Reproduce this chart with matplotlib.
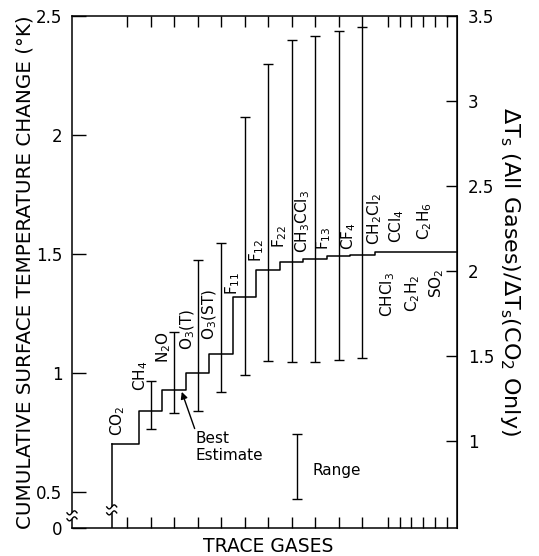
import numpy as np
import matplotlib.pyplot as plt
from matplotlib.patches import Rectangle

# trace gases, in the order they are added
gases = ['CO$_2$', 'CH$_4$', 'N$_2$O', 'O$_3$(T)', 'O$_3$(ST)', 'F$_{11}$', 'F$_{12}$',
         'F$_{22}$', 'CH$_3$CCl$_3$', 'F$_{13}$', 'CF$_4$', 'CH$_2$Cl$_2$', 'CCl$_4$',
         'C$_2$H$_6$', 'CHCl$_3$', 'C$_2$H$_2$', 'SO$_2$']
# cumulative surface temperature change (K), best estimate
cumulative = [0.70, 0.84, 0.93, 1.00, 1.08, 1.32, 1.435, 1.465, 1.48, 1.49, 1.495,
              1.51, 1.51, 1.51, 1.51, 1.51, 1.51]
# range for CH4 ... CF4
range_low = [0.765, 0.833, 0.842, 0.919, 0.99, 1.052, 1.047, 1.047, 1.055, 1.062]
range_high = [0.968, 1.172, 1.475, 1.547, 2.075, 2.298, 2.398, 2.416, 2.438, 2.455]
co2_only = 0.714

right_ticks = [1, 1.5, 2, 2.5, 3, 3.5]
left_ticks = [0.5, 1, 1.5, 2, 2.5]

# where the gas names sit (layout only)
label_x = [0.62, 1.60, 2.57, 3.60, 4.53, 5.51, 6.53, 7.51, 8.49, 9.38, 10.45,
           11.55, 12.49, 13.68, 12.11, 13.17, 14.19]
label_y = [0.735, 0.924, 1.042, 1.097, 1.139, 1.328, 1.466, 1.525, 1.504, 1.517, 1.517,
           1.538, 1.546, 1.559, 1.235, 1.256, 1.315]

y_bottom = 0.349
x_left, x_right = -1.34, 15.04
x_break = 0.35

xpos = np.r_[np.arange(1, 12), 12.1 + 0.5 * np.arange(6)]

fig = plt.figure(figsize=(5.39, 5.56), dpi=100)
ax = fig.add_axes([72 / 539, 28 / 556, 385 / 539, 512 / 556])

# data units per pixel, for the break marks
px_x = (x_right - x_left) / 385
px_y = (2.5 - y_bottom) / 512


def axis_break(x, y, gap=3.0, clip=True):
    # white gap across a vertical line, with a wiggle on each side
    ax.add_patch(Rectangle((x - 7 * px_x, y - gap * px_y), 14 * px_x, 2 * gap * px_y,
                           fc='white', ec='none', zorder=4, clip_on=clip))
    t = np.linspace(-1, 1, 30)
    for s in (-1, 1):
        ax.plot(x + 5 * t * px_x, y + (s * gap + 2.0 * np.sin(np.pi * t)) * px_y,
                color='k', lw=1.0, zorder=5, clip_on=clip)


# best estimate staircase
edges = np.r_[x_break, (xpos[1:] + xpos[:-1]) / 2, x_right]
ax.step(edges, np.r_[cumulative, cumulative[-1]], where='post', color='k', lw=1.1)
ax.plot([x_break, x_break], [y_bottom, cumulative[0]], color='k', lw=1.1)

# ranges
lo = np.array(range_low)
hi = np.array(range_high)
ax.errorbar(xpos[1:11], (lo + hi) / 2, yerr=(hi - lo) / 2, fmt='none', ecolor='k',
            elinewidth=1.0, capsize=3.5, capthick=1.0)

for name, x, y in zip(gases, label_x, label_y):
    ax.text(x, y, name, rotation=90, ha='center', va='bottom', fontsize=11)

# legend bits
ax.annotate('Best\nEstimate', xy=(3.33, 0.921), xytext=(3.92, 0.755),
            ha='left', va='top', fontsize=11, linespacing=1.15,
            arrowprops=dict(arrowstyle='-|>', color='k', lw=1.0, mutation_scale=10,
                            shrinkA=0, shrinkB=0, relpos=(0, 1)))
ax.errorbar([8.23], [0.606], yerr=[0.136], fmt='none', ecolor='k', elinewidth=1.0,
            capsize=3.5, capthick=1.0)
ax.text(8.9, 0.592, 'Range', ha='left', va='center', fontsize=11)

ax.set_xlim(x_left, x_right)
ax.set_ylim(y_bottom, 2.5)

axis_break(x_left, 0.40, clip=False)
axis_break(x_break, 0.425)

ax.set_xticks(xpos)
ax.set_xticklabels([])
ax.set_yticks([y_bottom] + left_ticks)
ax.set_yticklabels(['0', '0.5', '1', '1.5', '2', '2.5'])
ax.tick_params(axis='y', direction='in', length=10, width=1, labelsize=12, pad=7)
ax.tick_params(axis='x', direction='in', length=8, width=1, top=True)
for s in ax.spines.values():
    s.set_linewidth(1.1)

ax2 = ax.secondary_yaxis('right', functions=(lambda y: y / co2_only, lambda r: r * co2_only))
ax2.set_yticks(right_ticks)
ax2.set_yticklabels(['1', '1.5', '2', '2.5', '3', '3.5'])
ax2.tick_params(direction='in', length=8, width=1, labelsize=12, pad=8)
fig.text(510 / 539, 0.511,
         r'$\Delta\mathregular{T_s}$ (All Gases)/$\Delta\mathregular{T_s}$(CO$_2$ Only)',
         fontsize=16, rotation=270, ha='center', va='center')

ax.set_ylabel('CUMULATIVE SURFACE TEMPERATURE CHANGE (°K)', fontsize=14.3, va='center')
ax.yaxis.set_label_coords(-0.122, 0.5)
ax.set_xlabel('TRACE GASES', fontsize=13.5)
ax.xaxis.set_label_coords(0.509, -0.018)

fig.savefig('out.png', dpi=100, facecolor='white')
